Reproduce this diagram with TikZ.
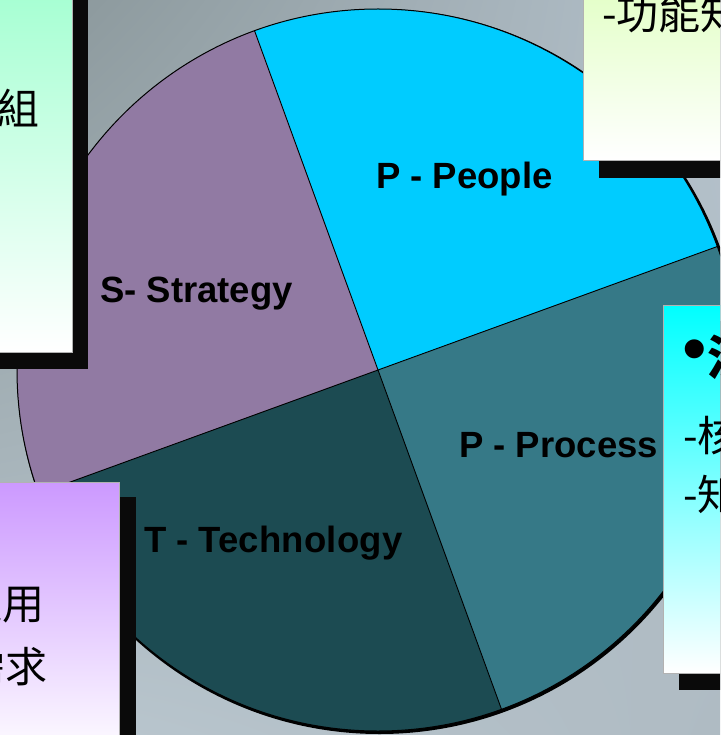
\documentclass[tikz,border=0pt]{standalone}
\usepackage{fontspec}
\usetikzlibrary{shadings}
\setmainfont{Liberation Sans}
\newfontfamily\cjk{Noto Sans CJK TC}
\definecolor{people}{HTML}{00CCFF}
\definecolor{strategy}{HTML}{917AA3}
\definecolor{technology}{HTML}{1C4B52}
\definecolor{process}{HTML}{367987}
\definecolor{shadowblack}{HTML}{0A0A0A}
\definecolor{bgA}{HTML}{889598}
\definecolor{bgB}{HTML}{B4C1CB}
\definecolor{bgC}{HTML}{BAC7CF}
\definecolor{bgD}{HTML}{AFBBC3}
\definecolor{tlgreen}{HTML}{99FFCC}
\definecolor{trgreen}{HTML}{CCFF99}
\definecolor{rcyan}{HTML}{00FFFF}
\definecolor{blviolet}{HTML}{CC99FF}
\begin{document}
\begin{tikzpicture}[x=1pt,y=-1pt,
  lab/.style={font=\fontsize{36.5}{40}\selectfont\bfseries, inner sep=0pt, anchor=base west, text=black},
  cjkt/.style={font=\cjk\fontsize{42}{46}\selectfont, inner sep=0pt, text=black},
  shadowfill/.style={fill=shadowblack},
  boxedge/.style={draw=gray!60, line width=0.8pt}]
\useasboundingbox (0,0) rectangle (720,735);
\clip (0,0) rectangle (720,735);
% background
\shade[upper left=bgA, upper right=bgB, lower left=bgC, lower right=bgD] (0,0) rectangle (720,735);
% pie
\begin{scope}[shift={(378,370)}, y=1pt]
  \fill[black] (1.5pt,-1.5pt) circle[radius=362.5pt];
  \fill[people] (0,0) -- (20:361pt) arc[start angle=20, end angle=110, radius=361pt] -- cycle;
  \fill[strategy] (0,0) -- (110:361pt) arc[start angle=110, end angle=200, radius=361pt] -- cycle;
  \fill[technology] (0,0) -- (200:361pt) arc[start angle=200, end angle=290, radius=361pt] -- cycle;
  \fill[process] (0,0) -- (290:361pt) arc[start angle=290, end angle=380, radius=361pt] -- cycle;
  \draw[line width=1pt] (0,0) circle[radius=361pt];
  \draw[line width=0.9pt] (110:361pt) -- (290:361pt);
  \draw[line width=0.9pt] (20:361pt) -- (200:361pt);
\end{scope}
% labels
\node[lab] (people) at (376,189) {P - People};
\node[lab] (strategy) at (100,302) {S- Strategy};
\node[lab] (process) at (459,457) {P - Process};
\node[lab] (technology) at (144,552) {T - Tech\kern0.3pt n\kern0.3pt o\kern0.3pt l\kern0.3pt o\kern0.3pt g\kern0.3pt y};
% top-left box
\fill[shadowfill] (-184,-44) rectangle (88,369);
\shade[top color=tlgreen, bottom color=white] (-200,-60) rectangle (72,352);
\draw[boxedge] (-200,-60) rectangle (72,352);
% top-right box
\fill[shadowfill] (599,-134) rectangle (900,178);
\shade[top color=trgreen, bottom color=white] (583,-150) rectangle (900,160);
\draw[boxedge] (583,-150) rectangle (900,160);
% right box
\fill[shadowfill] (679,321) rectangle (900,690);
\shade[top color=rcyan, bottom color=white] (663,305) rectangle (900,673);
\draw[boxedge] (663,305) rectangle (900,673);
% bottom-left box
\fill[shadowfill] (-184,497) rectangle (136,900);
\shade[top color=blviolet, bottom color=white] (-200,482) rectangle (119,760);
\draw[boxedge] (-200,482) rectangle (119,760);
% box texts
\node[cjkt, anchor=east] (tl1) at (40,108) {組};
\node[cjkt, anchor=west] (tr1) at (602,14) {-功能知識};
\node[font=\fontsize{70}{72}\selectfont, inner sep=0pt, text=black] (r1b) at (695,356) {•};
\node[cjkt, font=\cjk\bfseries\fontsize{48}{52}\selectfont, anchor=west] (r1) at (707,357) {流程};
\node[cjkt, anchor=west] (r2) at (683,435) {-核心};
\node[cjkt, anchor=west] (r3) at (683,494) {-知識};
\node[cjkt, anchor=east] (bl1) at (45,604) {運用};
\node[cjkt, anchor=east] (bl2) at (48,667) {需求};
\end{tikzpicture}
\end{document}
